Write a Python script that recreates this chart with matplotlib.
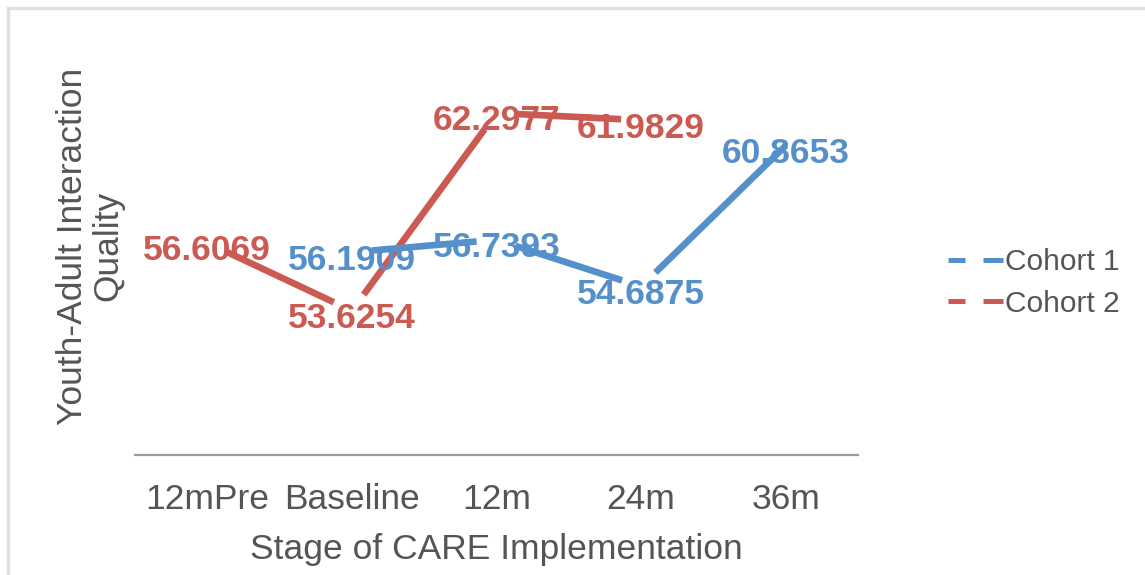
import matplotlib
matplotlib.use("Agg")
import matplotlib.pyplot as plt
from matplotlib.lines import Line2D
import numpy as np

# ---- data ----
categories = ["12mPre", "Baseline", "12m", "24m", "36m"]
cohort1_x = [1, 2, 3, 4]
cohort1_vals = [56.1909, 56.7393, 54.6875, 60.8653]
cohort2_x = [0, 1, 2, 3]
cohort2_vals = [56.6069, 53.6254, 62.2977, 61.9829]
series_names = ["Cohort 1", "Cohort 2"]

BLUE = "#5690CB"
RED = "#CB5A52"
GRAY = "#555555"

plt.rcParams['font.family'] = ['Liberation Sans', 'DejaVu Sans']

W, H = 1145, 575
fig = plt.figure(figsize=(W / 100, H / 100), dpi=100)
fig.patch.set_facecolor("white")

# axes placed in pixel terms
left, right, top, bottom = 135, 858, 50, 455
ax = fig.add_axes([left / W, 1 - bottom / H, (right - left) / W, (bottom - top) / H])
ax.set_xlim(-0.5, 4.5)
ax.set_ylim(47.3, 65.06)
for s in ["top", "right", "left"]:
    ax.spines[s].set_visible(False)
ax.spines["bottom"].set_color("#9a9a9a")
ax.spines["bottom"].set_linewidth(1.6)
ax.set_yticks([])
ax.set_xticks(range(len(categories)))
ax.set_xticklabels(categories, fontsize=25.5, color=GRAY)
ax.tick_params(axis="x", length=0, pad=20)
ax.patch.set_alpha(0)

GAP = 20.0  # pixel gap around each point


def draw_gapped(xs, ys, color):
    pts = ax.transData.transform(np.column_stack([xs, ys]))
    inv = ax.transData.inverted()
    for i in range(len(pts) - 1):
        p0, p1 = pts[i], pts[i + 1]
        d = p1 - p0
        L = np.hypot(*d)
        u = d / L
        a = p0 + u * GAP
        b = p1 - u * GAP
        if i == len(pts) - 2 and color == BLUE:
            b = p1
        seg = inv.transform(np.vstack([a, b]))
        ax.plot(seg[:, 0], seg[:, 1], color=color, lw=4.8,
                solid_capstyle="butt", zorder=2)


draw_gapped(cohort2_x, cohort2_vals, RED)
draw_gapped(cohort1_x, cohort1_vals, BLUE)

for xs, vals, c in [(cohort2_x, cohort2_vals, RED), (cohort1_x, cohort1_vals, BLUE)]:
    for x, v in zip(xs, vals):
        ax.annotate(f"{v:.4f}", (x, v), xytext=(0, -12.5), textcoords="offset points",
                    ha="center", va="baseline", fontsize=25.5, fontweight="bold",
                    color=c, zorder=3)

# axis titles
fig.text(496 / W, 1 - 550 / H, "Stage of CARE Implementation", ha="center",
         va="center", fontsize=25.5, color=GRAY)
fig.text(90 / W, 1 - 246 / H, "Youth-Adult Interaction\nQuality", ha="center",
         va="center", rotation=90, fontsize=25.5, color=GRAY,
         multialignment="center", linespacing=1.1)

# legend
handles = [Line2D([], [], color=BLUE, lw=3.6, dashes=(3.4, 3.6, 4.0, 20)),
           Line2D([], [], color=RED, lw=3.6, dashes=(3.4, 3.6, 4.0, 20))]
leg = fig.legend(handles, series_names, loc="center left",
                 bbox_to_anchor=(948 / W, 1 - 283 / H), frameon=False,
                 fontsize=21.5, handlelength=1.85, handletextpad=0.05,
                 labelspacing=0.45, borderpad=0, borderaxespad=0)
for t in leg.get_texts():
    t.set_color(GRAY)

# outer light frame (top & left edges)
fig.add_artist(Line2D([8 / W, 1.0], [1 - 8 / H, 1 - 8 / H], color="#e0e0e0", lw=2.4,
                      transform=fig.transFigure))
fig.add_artist(Line2D([8 / W, 8 / W], [1 - 8 / H, 0.0], color="#e0e0e0", lw=2.4,
                      transform=fig.transFigure))

fig.savefig("out.png", dpi=100)
